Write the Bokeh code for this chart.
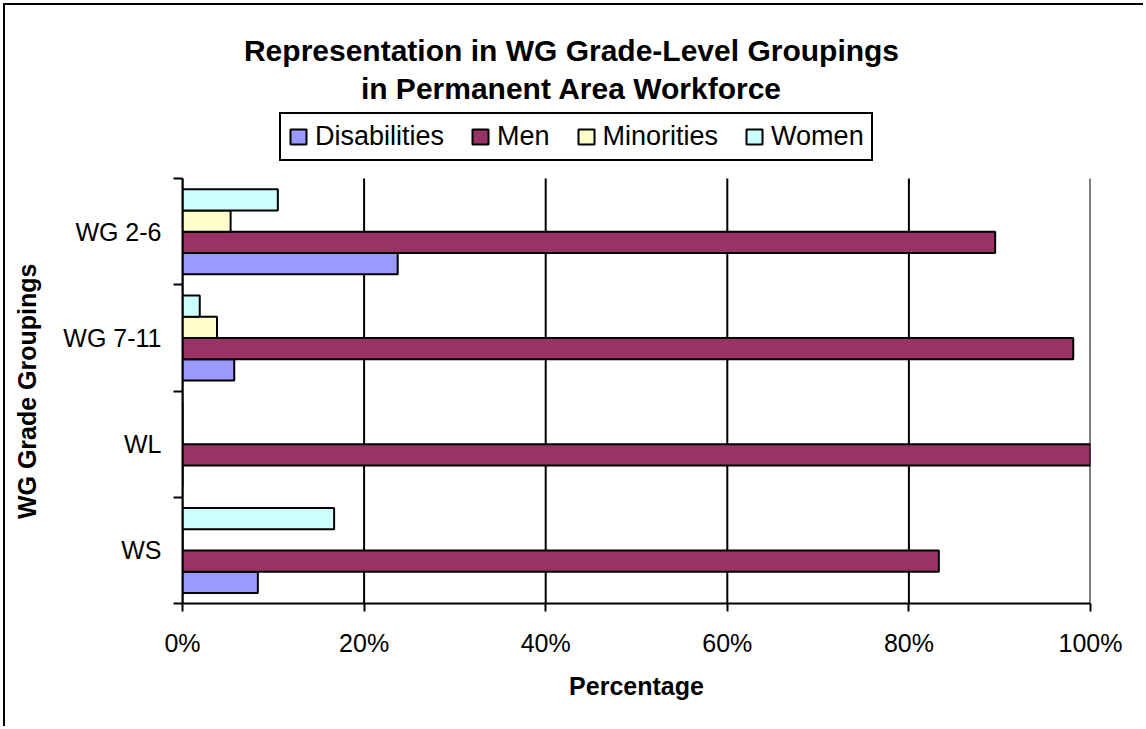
from bokeh.plotting import figure
from bokeh.models import (ColumnDataSource, FixedTicker, PrintfTickFormatter,
                          Legend, LegendItem, Label, Range1d)
from bokeh.transform import dodge
from bokeh.embed import file_html
from bokeh.resources import INLINE

# ---------------- data ----------------
categories = ["WG 2-6", "WG 7-11", "WL", "WS"]          # top to bottom
disabilities = [23.7, 5.7, 0.0, 8.3]
men = [89.5, 98.1, 100.0, 83.3]
minorities = [5.3, 3.8, 0.0, 0.0]
women = [10.5, 1.9, 0.0, 16.7]
x_ticks = [0, 20, 40, 60, 80, 100]
title_lines = ["Representation in WG Grade-Level Groupings",
               "in Permanent Area Workforce"]
x_title = "Percentage"
y_title = "WG Grade Groupings"

# ---------------- style / layout ----------------
FONT = "Liberation Sans"
series = [
    ("Disabilities", disabilities, "#9999FF", -0.3),
    ("Men", men, "#993366", -0.1),
    ("Minorities", minorities, "#FFFFCC", 0.1),
    ("Women", women, "#CCFFFF", 0.3),
]

n = len(categories)
pos = [n - 1 - i for i in range(n)]   # numeric slot of each category (top = highest)

W, H = 1140, 723
BL, BR, BB = 177, 55, 125             # borders: the frame reaches the canvas top
plot_top_px = 173                      # top of the bar area inside the frame
frame_h = H - BB
y_lo, y_hi = -0.5, n - 0.5
y_top = y_lo + (y_hi - y_lo) * frame_h / (frame_h - plot_top_px)

p = figure(width=W, height=H, title=None,
           x_range=Range1d(0, 100), y_range=Range1d(y_lo, y_top),
           output_backend="svg", toolbar_location=None,
           min_border_left=BL, min_border_right=BR,
           min_border_top=0, min_border_bottom=BB)
p.styles = {"margin-left": "3px", "margin-top": "3px",
            "border-left": "2px solid black", "border-top": "2px solid black"}
p.outline_line_color = None
p.background_fill_color = "white"
p.border_fill_color = "white"

# vertical grid lines limited to the bar area
p.xgrid.visible = False
p.ygrid.visible = False
p.segment(x0=x_ticks, x1=x_ticks, y0=[y_lo] * len(x_ticks), y1=[y_hi] * len(x_ticks),
          line_color="black", line_width=2)

renderers = []
for name, vals, color, off in series:
    src = ColumnDataSource(dict(pos=pos, value=vals, cat=categories))
    r = p.hbar(y=dodge("pos", off), left=0, right="value", height=0.2,
               source=src, fill_color=color, line_color="black", line_width=2)
    renderers.append((name, r))

# x axis
xa = p.xaxis[0]
xa.ticker = FixedTicker(ticks=x_ticks)
xa.formatter = PrintfTickFormatter(format="%d%%")
xa.axis_line_width = 2
xa.axis_line_color = "black"
xa.major_tick_line_width = 2
xa.major_tick_line_color = "black"
xa.major_tick_out = 8
xa.major_tick_in = 0
xa.minor_tick_out = 0
xa.minor_tick_in = 0
xa.major_label_standoff = 17
xa.major_label_text_font = FONT
xa.major_label_text_font_size = "25px"
xa.major_label_text_color = "black"
xa.axis_label = x_title
xa.axis_label_text_font = FONT
xa.axis_label_text_font_style = "bold"
xa.axis_label_text_font_size = "25px"
xa.axis_label_text_color = "black"
xa.axis_label_standoff = 12

# y axis (bounded to the bar area)
ya = p.yaxis[0]
ya.bounds = (y_lo, y_hi)
ya.ticker = FixedTicker(ticks=sorted(pos),
                        minor_ticks=[k - 0.5 for k in range(n + 1)])
ya.major_label_overrides = {pos[i]: categories[i] for i in range(n)}
ya.axis_line_width = 2
ya.axis_line_color = "black"
ya.major_tick_out = 0
ya.major_tick_in = 0
ya.major_tick_line_color = None
ya.minor_tick_out = 9
ya.minor_tick_in = 0
ya.minor_tick_line_width = 2
ya.minor_tick_line_color = "black"
ya.major_label_standoff = 12
ya.major_label_text_font = FONT
ya.major_label_text_font_size = "25px"
ya.major_label_text_color = "black"
# the axis title is centred on the whole frame; pad its end with no-break
# spaces so that the visible words sit centred on the bar area
ya.axis_label = y_title + "\u00a0" * 25
ya.axis_label_text_font = FONT
ya.axis_label_text_font_style = "bold"
ya.axis_label_text_font_size = "25px"
ya.axis_label_text_color = "black"
ya.axis_label_standoff = 19

# title (two centred lines)
for line, yy in zip(title_lines, [553, 515.5]):
    p.add_layout(Label(x=389, y=yy, x_units="screen", y_units="screen",
                       text=line, text_align="center", text_baseline="alphabetic",
                       text_font=FONT, text_font_style="bold",
                       text_font_size="30px", text_color="black"))

# legend
legend = Legend(items=[LegendItem(label=nm, renderers=[r]) for nm, r in renderers],
                orientation="horizontal", location=(97, 442),
                label_text_font=FONT, label_text_font_size="27px",
                label_text_color="black",
                glyph_width=20, glyph_height=19, label_standoff=7,
                spacing=26, padding=7, margin=0,
                border_line_color="black", border_line_width=2,
                border_line_alpha=1.0,
                background_fill_color="white", background_fill_alpha=1.0)
p.add_layout(legend)

open("out.html", "w").write(file_html(p, INLINE))
